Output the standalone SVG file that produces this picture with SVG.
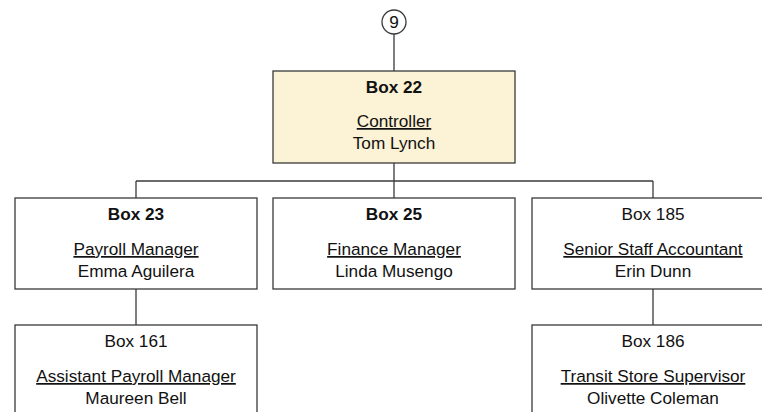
<svg xmlns="http://www.w3.org/2000/svg" width="762" height="412" viewBox="0 0 762 412">
<style>
.box{fill:#ffffff;stroke:#3a3a3a;stroke-width:1.3}
.hl{fill:#fcf2d6}
.t{font-family:"Liberation Sans",Arial,sans-serif;font-size:17.2px;fill:#111;text-anchor:middle}
.b{font-weight:bold}
.u{text-decoration:underline}
.c{fill:none;stroke:#3a3a3a;stroke-width:1.3}
</style>
<rect width="762" height="412" fill="#ffffff"/>
<g id="connectors">
<line class="c" x1="394" y1="34" x2="394" y2="71"/>
<line class="c" x1="394" y1="163" x2="394" y2="198"/>
<line class="c" x1="136" y1="181" x2="653" y2="181"/>
<line class="c" x1="136" y1="181" x2="136" y2="198"/>
<line class="c" x1="653" y1="181" x2="653" y2="198"/>
<line class="c" x1="136" y1="289" x2="136" y2="325"/>
<line class="c" x1="653" y1="289" x2="653" y2="325"/>
</g>
<g id="n9">
<circle cx="394" cy="22" r="12" fill="#ffffff" stroke="#3a3a3a" stroke-width="1.3"/>
<text class="t" x="394" y="28">9</text>
</g>
<g id="box22">
<rect class="box hl" x="273" y="71" width="242" height="92"/>
<text class="t b" x="394" y="93">Box 22</text>
<text class="t u" x="394" y="127">Controller</text>
<text class="t" x="394" y="149">Tom Lynch</text>
</g>
<g id="box23">
<rect class="box" x="15" y="198" width="242" height="91"/>
<text class="t b" x="136" y="220">Box 23</text>
<text class="t u" x="136" y="255">Payroll Manager</text>
<text class="t" x="136" y="277">Emma Aguilera</text>
</g>
<g id="box25">
<rect class="box" x="273" y="198" width="242" height="91"/>
<text class="t b" x="394" y="220">Box 25</text>
<text class="t u" x="394" y="255">Finance Manager</text>
<text class="t" x="394" y="277">Linda Musengo</text>
</g>
<g id="box185">
<rect class="box" x="532" y="198" width="242" height="91"/>
<text class="t" x="653" y="220">Box 185</text>
<text class="t u" x="653" y="255">Senior Staff Accountant</text>
<text class="t" x="653" y="277">Erin Dunn</text>
</g>
<g id="box161">
<rect class="box" x="15" y="325" width="242" height="100"/>
<text class="t" x="136" y="347">Box 161</text>
<text class="t u" x="136" y="382">Assistant Payroll Manager</text>
<text class="t" x="136" y="404">Maureen Bell</text>
</g>
<g id="box186">
<rect class="box" x="532" y="325" width="242" height="100"/>
<text class="t" x="653" y="347">Box 186</text>
<text class="t u" x="653" y="382">Transit Store Supervisor</text>
<text class="t" x="653" y="404">Olivette Coleman</text>
</g>
</svg>
